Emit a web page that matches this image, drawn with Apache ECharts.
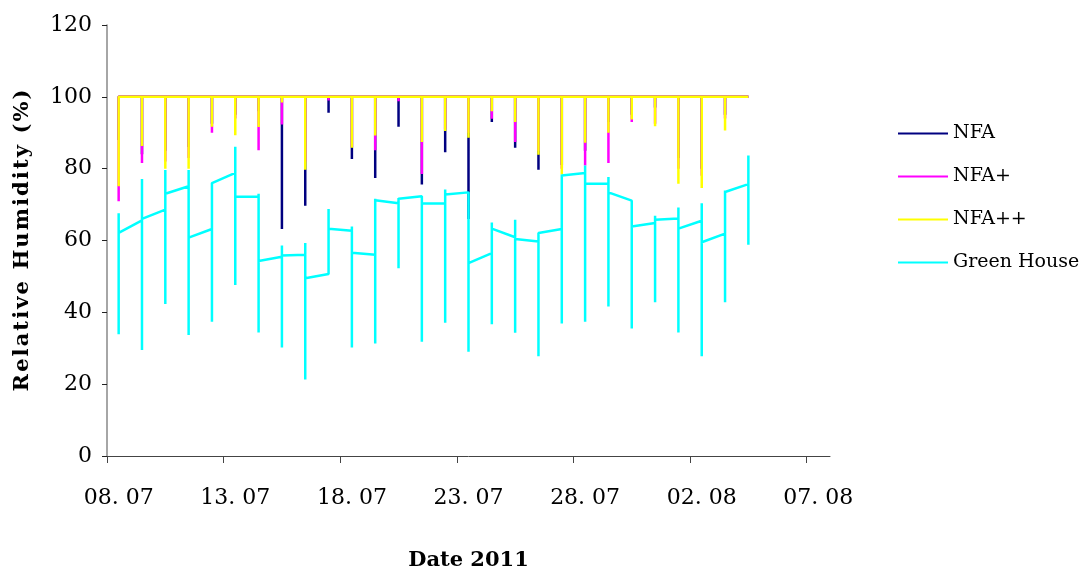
<!DOCTYPE html>
<html>
<head>
<meta charset="utf-8">
<script src="https://cdn.jsdelivr.net/npm/echarts@6/dist/echarts.min.js"></script>
<style>
  html, body { margin: 0; padding: 0; background: #fff; }
  #chart { width: 1090px; height: 576px; }
</style>
</head>
<body>
<div id="chart"></div>
<script>
// Daily logger days, 08.07.2011 .. 04.08.2011 (index 0 .. 27)
const dayLabels = ['08.07','09.07','10.07','11.07','12.07','13.07','14.07','15.07','16.07','17.07',
  '18.07','19.07','20.07','21.07','22.07','23.07','24.07','25.07','26.07','27.07',
  '28.07','29.07','30.07','31.07','01.08','02.08','03.08','04.08'];

// Date axis labels, every 5 days
const tickLabels = ['08. 07','13. 07','18. 07','23. 07','28. 07','02. 08','07. 08'];

// Relative humidity saturates at the sensor ceiling inside the nets
const rhCeiling = 100;

// Daily minimum RH (%) under each net
const nfaMin = [88, 84, 85, 86, 92.5, 95, 96, 63.2, 69.7, 95.6,
  82.7, 77.4, 91.7, 75.6, 84.6, 66, 93, 85.8, 79.7, 81,
  85, 93, 95, 97, 83, 80, 95, 100];
const nfaPlusMin = [70.9, 81.6, 82, 83, 90, 94, 85.1, 92.3, 82, 99,
  86, 85.1, 98.8, 78.5, 91, 90, 93.9, 87.4, 85, 80,
  80.9, 81.6, 93, 92.5, 80, 78, 94, 100];
const nfaPlusPlusMin = [75.1, 86.3, 80, 80, 91.7, 89.3, 91.6, 98.4, 79.7, 99.5,
  85.8, 89.2, 99.6, 87.4, 90.5, 88.6, 96, 93, 83.9, 78.4,
  87.2, 90, 93.7, 91.8, 75.8, 74.6, 90.6, 100];

// Green house RH (%): first reading, daily max, daily min, last reading
const houseOpen = [64, 65.6, 68.6, 75.1, 63.2, 78.8, 72.2, 55.5, 56, 50.7,
  62.7, 56, 70.4, 72.3, 70.3, 73.4, 56.5, 60.9, 59.7, 63.2,
  78.8, 75.8, 71.1, 64.9, 66.1, 65.5, 61.9, 75.7];
const houseMax = [67.6, 77.1, 79.6, 79.6, 76, 86.1, 73, 58.6, 59.3, 68.8,
  63.9, 71.6, 71.8, 72.3, 74.2, 73.4, 65, 65.8, 62.1, 78.4,
  80.9, 77.7, 71.1, 66.9, 69.2, 70.4, 73.9, 83.7];
const houseMin = [33.9, 29.5, 42.3, 33.7, 37.4, 47.6, 34.4, 30.2, 21.3, 50.7,
  30.2, 31.3, 52.3, 31.8, 37.1, 29, 36.7, 34.3, 27.8, 36.9,
  37.4, 41.6, 35.5, 42.8, 34.4, 27.8, 42.8, 58.8];
const houseClose = [62.1, 66, 73, 60.8, 76, 72.2, 54.3, 55.8, 49.5, 63.3,
  56.6, 71.2, 71.6, 70.3, 72.8, 53.7, 63.3, 60.4, 62.1, 78.1,
  75.8, 73.4, 63.9, 65.8, 63.3, 59.5, 73.5, 76];

// All readings of one day share the day's x position, so each day
// becomes a vertical stroke joined to the next day's first reading.
function netPath(mins) {
  const pts = [];
  dayLabels.forEach((d, i) => {
    pts.push([i, rhCeiling], [i, mins[i]], [i, rhCeiling]);
  });
  return pts;
}
function housePath() {
  const pts = [];
  dayLabels.forEach((d, i) => {
    pts.push([i, houseOpen[i]], [i, houseMax[i]], [i, houseMin[i]], [i, houseClose[i]]);
  });
  return pts;
}

const serif = 'DejaVu Serif';
const yTitle = 'Relative Humidity (%)';

function lineSeries(name, color, data) {
  return {
    name, type: 'line', data,
    symbol: 'none', showSymbol: false,
    lineStyle: { color, width: 2.5 },
    itemStyle: { color },
    emphasis: { disabled: true },
    silent: true
  };
}

const chart = echarts.init(document.getElementById('chart'), null, { renderer: 'canvas' });
chart.setOption({
  animation: false,
  backgroundColor: '#fff',
  grid: { left: 107, right: 260, top: 25, bottom: 120 },
  legend: {
    orient: 'vertical',
    left: 893, top: 119,
    icon: 'rect', itemWidth: 50, itemHeight: 2, itemGap: 24,
    textStyle: { fontFamily: serif, fontSize: 19, color: '#000' },
    data: ['NFA', 'NFA+', 'NFA++', 'Green House']
  },
  xAxis: {
    type: 'value', min: -0.5, max: 30.5,
    splitLine: { show: false },
    axisLine: { lineStyle: { color: '#444', width: 1 } },
    axisTick: {
      show: true, length: 7, lineStyle: { color: '#444' },
      customValues: [-0.5, 4.5, 9.5, 14.5, 19.5, 24.5, 29.5]
    },
    axisLabel: {
      customValues: tickLabels.map((t, k) => k * 5),
      formatter: v => tickLabels[Math.round(v / 5)],
      fontFamily: serif, fontSize: 22, color: '#000', margin: 31
    },
    name: 'Date 2011', nameLocation: 'middle', nameGap: 94,
    nameTextStyle: { fontFamily: serif, fontSize: 21, fontWeight: 'bold', color: '#000' }
  },
  yAxis: {
    type: 'value', min: 0, max: 120, interval: 20,
    splitLine: { show: false },
    axisLine: { show: true, onZero: false, lineStyle: { color: '#888', width: 1.5 } },
    axisTick: { show: true, length: 5, lineStyle: { color: '#222' } },
    axisLabel: { fontFamily: serif, fontSize: 22, color: '#000', margin: 15 },
    name: yTitle.split('').join('\u200A'), nameLocation: 'middle', nameRotate: 90, nameGap: 74,
    nameTextStyle: { fontFamily: serif, fontSize: 21, fontWeight: 'bold', color: '#000' }
  },
  series: [
    lineSeries('NFA', '#000080', netPath(nfaMin)),
    lineSeries('NFA+', '#ff00ff', netPath(nfaPlusMin)),
    lineSeries('NFA++', '#ffff00', netPath(nfaPlusPlusMin)),
    lineSeries('Green House', '#00ffff', housePath())
  ]
});
</script>
</body>
</html>
